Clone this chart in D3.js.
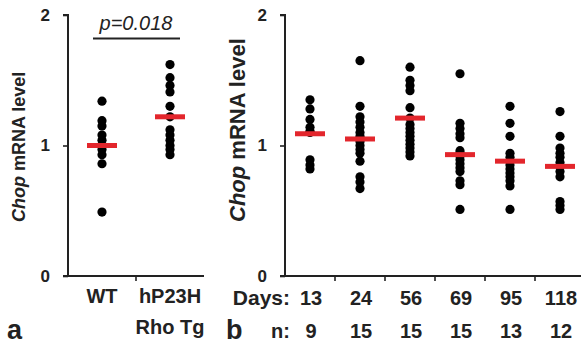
<!DOCTYPE html>
<html>
<head>
<meta charset="utf-8">
<script src="https://cdn.jsdelivr.net/npm/d3@7"></script>
<style>
html,body{margin:0;padding:0;background:#fff;}
svg{display:block;}
text{font-family:"Liberation Sans",Arial,sans-serif;fill:#222;}
</style>
</head>
<body>
<svg id="chart" width="581" height="347"></svg>
<script>
// ---- Data ----
const yTicks = [0, 1, 2];

// Panel a
const groupsA = ["WT", "hP23H"];
const groupsA2 = ["", "Rho Tg"];
const wtValues = [1.34, 1.19, 1.15, 1.08, 1.04, 1.00, 0.97, 0.93, 0.86, 0.49];
const tgValues = [1.62, 1.52, 1.46, 1.41, 1.30, 1.22, 1.12, 1.08, 1.04, 1.00, 0.97, 0.93];
const meansA = [1.00, 1.22];
const pLabel = "p=0.018";

// Panel b
const days = ["13", "24", "56", "69", "95", "118"];
const nCounts = ["9", "15", "15", "15", "13", "12"];
const day13 = [1.35, 1.28, 1.20, 1.14, 1.11, 1.10, 0.89, 0.85, 0.82];
const day24 = [1.65, 1.30, 1.22, 1.18, 1.14, 1.10, 1.07, 1.03, 1.00, 0.97, 0.94, 0.88, 0.76, 0.72, 0.67];
const day56 = [1.60, 1.50, 1.46, 1.42, 1.29, 1.21, 1.16, 1.13, 1.10, 1.07, 1.04, 1.01, 0.98, 0.95, 0.92];
const day69 = [1.55, 1.17, 1.13, 1.09, 1.06, 0.96, 0.94, 0.92, 0.89, 0.86, 0.83, 0.80, 0.73, 0.70, 0.51];
const day95 = [1.30, 1.17, 1.07, 0.94, 0.91, 0.88, 0.85, 0.82, 0.79, 0.76, 0.73, 0.69, 0.51];
const day118 = [1.26, 1.07, 0.98, 0.94, 0.91, 0.87, 0.84, 0.80, 0.76, 0.57, 0.54, 0.51];
const meansB = [1.09, 1.05, 1.21, 0.93, 0.88, 0.84];

// ---- Drawing ----
const svg = d3.select("#chart");
const RED = "#e3262c";
const DOT_R = 4.6;

const y = d3.scaleLinear().domain([0, 2]).range([276, 15]);

function drawPanel(x0, x1, cats, seriesList, means, yLabelSize, yLabelX) {
  const g = svg.append("g");
  const x = d3.scaleBand().domain(cats).range([x0, x1]).padding(0);

  // y axis
  const ya = g.append("g").attr("transform", `translate(${x0},0)`)
    .call(d3.axisLeft(y).tickValues(yTicks).tickFormat(d3.format("d")).tickSize(5).tickPadding(13));
  ya.select(".domain").attr("stroke", "#222").attr("stroke-width", 2).attr("d", `M-5,${y(2)}H0V${y(0)}`);
  ya.selectAll(".tick line").attr("stroke", "#222").attr("stroke-width", 1.6);
  ya.selectAll(".tick text").attr("font-size", 17).attr("font-weight", "bold")
    .attr("font-family", "'Liberation Sans',Arial,sans-serif").attr("fill", "#222");

  // x axis line
  g.append("line").attr("x1", x0 - 5).attr("x2", x1).attr("y1", y(0)).attr("y2", y(0))
    .attr("stroke", "#222").attr("stroke-width", 2);
  // ticks between categories
  cats.slice(1).forEach(c => {
    g.append("line").attr("x1", x(c)).attr("x2", x(c)).attr("y1", y(0)).attr("y2", y(0) + 5)
      .attr("stroke", "#222").attr("stroke-width", 1.6);
  });

  // dots
  seriesList.forEach((vals, i) => {
    const cx = x(cats[i]) + x.bandwidth() / 2;
    g.selectAll(null).data(vals).enter().append("circle")
      .attr("cx", cx).attr("cy", d => y(d)).attr("r", DOT_R).attr("fill", "#000");
  });
  // mean bars
  g.selectAll(null).data(means).enter().append("rect")
    .attr("x", (d, i) => x(cats[i]) + x.bandwidth() / 2 - 15)
    .attr("y", d => y(d) - 2.5).attr("width", 30).attr("height", 5).attr("fill", RED);

  // y label
  const yl = g.append("text")
    .attr("transform", `translate(${yLabelX},${y(0) - 54}) rotate(-90)`)
    .attr("text-anchor", "start").attr("font-size", yLabelSize).attr("font-weight", "bold");
  yl.append("tspan").attr("font-style", "italic").text("Chop");
  yl.append("tspan").text(" mRNA level");
  return x;
}

// Panel a
const xa = drawPanel(68, 204, groupsA, [wtValues, tgValues], meansA, 18, 25);
groupsA.forEach((c, i) => {
  const cx = xa(c) + xa.bandwidth() / 2;
  svg.append("text").attr("x", cx).attr("y", 303).attr("text-anchor", "middle")
    .attr("font-size", 20).attr("font-weight", "bold").text(c);
  if (groupsA2[i]) svg.append("text").attr("x", cx).attr("y", 334).attr("text-anchor", "middle")
    .attr("font-size", 20).attr("font-weight", "bold").text(groupsA2[i]);
});
svg.append("text").attr("x", 136).attr("y", 30).attr("text-anchor", "middle")
  .attr("font-size", 20).attr("font-style", "italic").text(pLabel);
svg.append("line").attr("x1", 93).attr("x2", 180).attr("y1", 38.5).attr("y2", 38.5)
  .attr("stroke", "#222").attr("stroke-width", 2);
svg.append("text").attr("x", 7).attr("y", 339).attr("font-size", 27).attr("font-weight", "bold").text("a");

// Panel b
const xb = drawPanel(285, 585, days, [day13, day24, day56, day69, day95, day118], meansB, 22, 245);
days.forEach((c, i) => {
  const cx = xb(c) + xb.bandwidth() / 2 + 1;
  svg.append("text").attr("x", cx).attr("y", 305).attr("text-anchor", "middle")
    .attr("font-size", 20).attr("font-weight", "bold").text(c);
  svg.append("text").attr("x", cx).attr("y", 338).attr("text-anchor", "middle")
    .attr("font-size", 20).attr("font-weight", "bold").text(nCounts[i]);
});
svg.append("text").attr("x", 290).attr("y", 305).attr("text-anchor", "end")
  .attr("font-size", 21).attr("font-weight", "bold").text("Days:");
svg.append("text").attr("x", 290).attr("y", 338).attr("text-anchor", "end")
  .attr("font-size", 20).attr("font-weight", "bold").text("n:");
svg.append("text").attr("x", 226).attr("y", 339).attr("font-size", 27).attr("font-weight", "bold").text("b");
</script>
</body>
</html>
